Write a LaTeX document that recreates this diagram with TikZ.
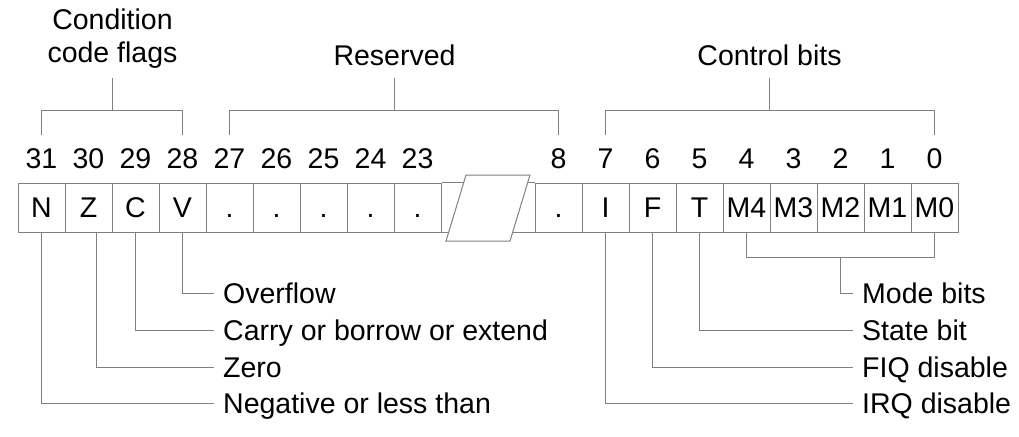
\documentclass[tikz,border=0pt]{standalone}
\usepackage{fontspec}
\setmainfont{Liberation Sans}
\definecolor{linegray}{HTML}{808080}

\begin{document}
\begin{tikzpicture}[x=1pt,y=-1pt,font=\fontsize{28.5}{33}\selectfont,
    bitbox/.style={draw=linegray,line width=1pt,fill=white,minimum width=47pt,minimum height=49pt,inner sep=0pt,text height=20pt,text depth=0pt},
    bitnum/.style={inner sep=0pt,text height=20pt,text depth=0pt},
    desc/.style={anchor=west,inner xsep=9pt,inner ysep=0pt,text height=20pt,text depth=0pt},
    lead/.style={draw=linegray,line width=1pt}]
    \useasboundingbox (0,0) rectangle (1019,436);
    %levels
    \coordinate (stemtop) at (0,78);
    \coordinate (brk) at (0,110);
    \coordinate (legend) at (0,135);
    \coordinate (mbar) at (0,257);

    %register, high bits
    \foreach \i/\t [evaluate=\i as \x using 41.5+(31-\i)*47] in {31/N,30/Z,29/C,28/V,27/.,26/.,25/.,24/.,23/.}{
        \node[bitbox] (b\i) at (\x,207.5) {\t};
        \node[bitnum] (n\i) at (\x,158.3) {\i};
    }
    %register, low bits
    \foreach \i/\t [evaluate=\i as \x using 558.5+(8-\i)*47] in {8/.,7/I,6/F,5/T,4/M4,3/M3,2/M2,1/M1,0/M0}{
        \node[bitbox] (b\i) at (\x,207.5) {\t};
        \node[bitnum] (n\i) at (\x,158.3) {\i};
    }

    %break
    \draw[lead] (b23.north east) -- (b8.north west);
    \draw[lead] (b23.south east) -- (b8.south west);
    \filldraw[lead,fill=white] (446,241) -- (510,241) -- (530,175) -- (466,175) -- cycle;

    %groups
    \node[align=center,inner sep=0pt] (cond) at (112.5,38.5) {Condition\\code flags};
    \node[bitnum] (resv) at (394.5,55.7) {Reserved};
    \node[bitnum] (ctrl) at (769.5,55.7) {Control bits};

    \draw[lead] (n31 |- legend) -- (n31 |- brk) -- (n28 |- brk) -- (n28 |- legend);
    \draw[lead] (cond |- stemtop) -- (cond |- brk);
    \draw[lead] (n27 |- legend) -- (n27 |- brk) -- (n8 |- brk) -- (n8 |- legend);
    \draw[lead] (resv |- stemtop) -- (resv |- brk);
    \draw[lead] (n7 |- legend) -- (n7 |- brk) -- (n0 |- brk) -- (n0 |- legend);
    \draw[lead] (ctrl |- stemtop) -- (ctrl |- brk);

    %flags
    \node[desc] (ovf) at (214,293) {Overflow};
    \node[desc] (carry) at (214,330) {Carry or borrow or extend};
    \node[desc] (zero) at (214,367) {Zero};
    \node[desc] (neg) at (214,403) {Negative or less than};

    \draw[lead] (b28.south) |- (ovf.west);
    \draw[lead] (b29.south) |- (carry.west);
    \draw[lead] ([xshift=7.5pt]b30.south) |- (zero.west);
    \draw[lead] (b31.south) |- (neg.west);

    %control
    \node[desc] (mode) at (853,293) {Mode bits};
    \node[desc] (state) at (853,330) {State bit};
    \node[desc] (fiq) at (853,367) {FIQ disable};
    \node[desc] (irq) at (853,403) {IRQ disable};

    \draw[lead] (b4.south) -- (b4 |- mbar) -- (b0 |- mbar) -- (b0.south);
    \draw[lead] (b2 |- mbar) |- (mode.west);
    \draw[lead] (b5.south) |- (state.west);
    \draw[lead] (b6.south) |- (fiq.west);
    \draw[lead] (b7.south) |- (irq.west);
\end{tikzpicture}
\end{document}
